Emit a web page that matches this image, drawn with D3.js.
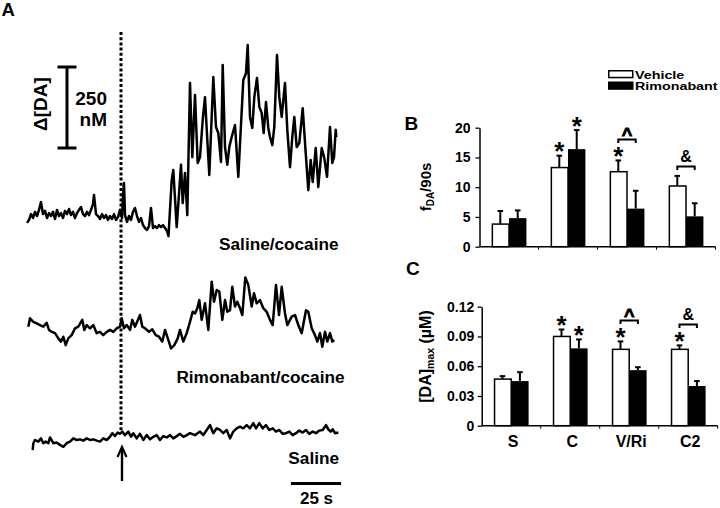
<!DOCTYPE html>
<html><head><meta charset="utf-8">
<script src="https://cdn.jsdelivr.net/npm/d3@7"></script>
<style>
html,body{margin:0;padding:0;background:#fff;}
svg{display:block;font-family:"Liberation Sans",Arial,Helvetica,sans-serif;font-weight:bold;}
</style></head><body>
<svg id="chart" width="720" height="508"></svg>
<script>
// ---------- Panel A: voltammetric traces, [time (s) relative to injection, Δ[DA] (nM)] ----------
const traceSalineCocaine = [
[-47,-15],[-46,-6],[-45,12],[-44,0],[-43,19],[-42,6],[-41,25],[-40,49],[-39,12],[-38,22],[-37,0],[-36,15],[-35,6],[-34,19],[-33,-3],[-32,25],[-31,6],[-30,15],[-29,0],[-28,22],[-27,12],[-26,28],[-25,9],[-24,19],[-23,0],[-22,15],[-21,25],[-20,34],[-19,12],[-18,6],[-17,19],[-16,9],[-15,25],[-14,43],[-13.5,71],[-12.5,12],[-11.5,6],[-10.5,-3],[-9.5,12],[-8.5,0],[-7.5,9],[-6.5,-6],[-5.5,6],[-4.5,-3],[-3.5,12],[-2.5,-6],[-1.5,3],[-0.5,25],[0.5,0],[1,71],[1.5,108],[2,9],[3,-12],[4,6],[5,-6],[6,19],[7,31],[8,6],[9,-12],[10,0],[11,-22],[12,-31],[13,-37],[14,-25],[15,31],[16,-31],[17,-25],[18,-31],[19,-22],[20,-28],[21,-22],[22,-31],[23,-40],[23.75,-56],[25.35,117],[26.15,148],[27.85,-28],[30,164],[30.85,46],[32,139],[33.15,9],[34.5,417],[35.65,188],[37,380],[38.35,170],[39.5,188],[40.85,302],[42,373],[43.15,241],[44.15,133],[46.15,435],[47.5,281],[48.65,262],[50,173],[50.85,472],[52,219],[53.15,164],[54.15,219],[55.35,250],[57,287],[58.65,127],[61.15,426],[62.5,447],[63.35,534],[64.5,312],[65.65,278],[66.65,373],[68,432],[69.15,343],[70.35,324],[71.35,262],[72.5,358],[73.65,278],[74.5,250],[75.65,225],[76.65,281],[78,503],[79.15,373],[80.35,312],[82,417],[83.15,272],[84.5,157],[85.65,250],[86.65,312],[87.85,219],[89.15,231],[90.85,339],[92.35,201],[93.65,86],[94.85,179],[95.85,111],[97.35,216],[98.65,96],[100.35,216],[101.65,185],[103,127],[104.5,281],[105.65,170],[106.5,188],[107.35,272],[107.65,250]
];
const traceRimonabantCocaine = [
[-46.35,1],[-45.5,27],[-43.85,16],[-42.15,11],[-40.5,6],[-38.85,1],[-37.15,13],[-36,-9],[-34.65,-15],[-33,-19],[-31.35,-35],[-30,-45],[-28.85,-30],[-27.65,-56],[-26.35,-35],[-24.65,-25],[-23,-4],[-21.35,1],[-19.35,22],[-18.35,-9],[-17.15,6],[-15.5,-4],[-13.85,6],[-12.15,-19],[-10.5,-15],[-8.85,-25],[-7.15,-15],[-5.5,-9],[-3.85,-15],[-2.15,-4],[-0.5,1],[0.35,27],[1.5,-4],[2.85,6],[4.5,-9],[5.65,22],[7,1],[9.5,37],[10.65,1],[12,-4],[14,-15],[15.65,-7],[17.35,-25],[19,-30],[20.65,-45],[22,-9],[23.65,-40],[25,-66],[26.65,-56],[28.35,-35],[29.5,-9],[31.15,-45],[32.85,-19],[34.5,16],[35.85,47],[37,42],[38.15,58],[39.15,83],[40.35,22],[42,73],[43.65,-9],[45.35,140],[46.5,78],[47.85,114],[49.15,109],[50.65,22],[52,83],[53.15,47],[54.5,52],[55.65,124],[57,63],[58.15,78],[59.5,58],[60.65,37],[62.15,153],[63.65,130],[65.35,63],[66.5,104],[67.85,73],[69.5,83],[71.15,58],[72.85,47],[74.5,22],[75.85,6],[77.5,130],[79,37],[80.35,124],[82,42],[83.15,6],[85.35,32],[87,37],[88.65,6],[90.35,-19],[92.5,52],[93.65,47],[95.35,-4],[97,-25],[98.15,-45],[99.5,-19],[100.65,-61],[102,-15],[103.15,-45],[104.5,-19],[105.65,-45],[106.65,-40]
];
const traceSaline = [
[-44.15,-31],[-43.85,-10],[-43,0],[-41.35,-5],[-40,5],[-38.85,-10],[-37.65,-5],[-36.35,-10],[-35.5,8],[-33.85,-10],[-32.15,-8],[-30.5,-15],[-28.85,-21],[-27.15,-10],[-25.5,-5],[-23.85,5],[-22.15,0],[-20.5,2],[-18.85,-2],[-17.15,5],[-15.5,0],[-13.85,2],[-12.15,-2],[-10.5,-5],[-8.85,5],[-7.15,0],[-5.5,10],[-4.35,21],[-3,12],[-1.65,23],[-0.5,19],[0.65,26],[2,15],[3.65,26],[5,10],[6.15,21],[7.85,5],[9.5,19],[11.15,0],[12.85,15],[14.5,2],[16.15,10],[17.85,15],[19.5,0],[21.15,12],[22.85,8],[24.5,15],[26.15,5],[27.85,12],[29.5,19],[31.15,10],[32,12],[34.5,21],[37,15],[39.5,26],[41.15,15],[42.85,31],[44.5,46],[46.15,21],[47.85,36],[49.5,31],[51.15,21],[52.85,31],[54.5,5],[56.15,26],[57.85,36],[59.5,41],[61.15,36],[62.85,46],[64.5,36],[66.15,52],[67.5,36],[69.15,52],[70.85,36],[72.5,46],[74.15,31],[75.85,36],[77.5,26],[79.15,31],[80.85,19],[82.5,21],[84.15,26],[85.85,15],[87.5,21],[89.15,29],[90.85,23],[92.5,31],[94.15,19],[95.85,26],[97.5,21],[99.15,29],[100.85,31],[102.5,46],[103.65,33],[104.85,26],[105.85,33],[107,21],[108.65,23]
];
const traceNames = ["Saline/cocaine","Rimonabant/cocaine","Saline"];
const scaleBarNM = 250;
const scaleBarSec = 25;
const timeBarStart = 85;

// ---------- Panels B and C: bar charts ----------
const categories = ["S","C","V/Ri","C2"];
const seriesNames = ["Vehicle","Rimonabant"];
const fdaVehicle = [3.8,13.3,12.6,10.2];
const fdaVehicleErr = [2.2,2.0,1.9,1.7];
const fdaRimonabant = [4.8,16.4,6.4,5.1];
const fdaRimonabantErr = [1.3,3.2,3.0,2.2];
const fdaTicks = [0,5,10,15,20];
const daMaxVehicle = [0.047,0.090,0.077,0.077];
const daMaxVehicleErr = [0.003,0.007,0.008,0.004];
const daMaxRimonabant = [0.045,0.078,0.056,0.040];
const daMaxRimonabantErr = [0.009,0.009,0.003,0.005];
const daMaxTicks = [0,0.03,0.06,0.09,0.12];
const daMaxTickLabels = ["0","0.03","0.06","0.09","0.12"];
const starsB = [["C","Vehicle"],["C","Rimonabant"],["V/Ri","Vehicle"]];
const starsC = [["C","Vehicle"],["C","Rimonabant"],["V/Ri","Vehicle"],["C2","Vehicle"]];
const bracketsB = [["V/Ri","^"],["C2","&"]];
const bracketsC = [["V/Ri","^"],["C2","&"]];

const svg = d3.select("#chart");

// ================= Panel A =================
svg.append("text").attr("x",1.5).attr("y",16).attr("font-size",18.5).text("A");

const xT = d3.scaleLinear().domain([0, 25]).range([121, 171]);
const baselines = [218, 327, 440];
const traces = [traceSalineCocaine, traceRimonabantCocaine, traceSaline];
traces.forEach((tr, i) => {
  const yS = d3.scaleLinear().domain([0, scaleBarNM]).range([baselines[i], baselines[i] - 81]);
  const line = d3.line().x(d => xT(d[0])).y(d => yS(d[1]));
  svg.append("path").datum(tr).attr("d", line)
    .attr("fill","none").attr("stroke","#000").attr("stroke-width",2.5)
    .attr("stroke-linejoin","round");
});
const labelPos = [[338.5,250],[344.5,383],[339,464]];
traceNames.forEach((n,i)=>{
  svg.append("text").attr("x",labelPos[i][0]).attr("y",labelPos[i][1])
    .attr("text-anchor","end").attr("font-size",17.2).text(n);
});

// injection marker
svg.append("line").attr("x1",xT(0)).attr("x2",xT(0)).attr("y1",32).attr("y2",432)
  .attr("stroke","#000").attr("stroke-width",3).attr("stroke-dasharray","3,2.2");
svg.append("line").attr("x1",xT(0.5)).attr("x2",xT(0.5)).attr("y1",449).attr("y2",481)
  .attr("stroke","#000").attr("stroke-width",2.4);
svg.append("path").attr("d",`M${xT(0.5)-4.5},${457} L${xT(0.5)},${447} L${xT(0.5)+4.5},${457}`)
  .attr("fill","none").attr("stroke","#000").attr("stroke-width",2.2);

// vertical scale bar
const ySB = d3.scaleLinear().domain([0, scaleBarNM]).range([148, 67]);
const sbx = 67;
svg.append("line").attr("x1",sbx).attr("x2",sbx).attr("y1",ySB(0)).attr("y2",ySB(scaleBarNM)).attr("stroke","#000").attr("stroke-width",3);
[0, scaleBarNM].forEach(v=>{
  svg.append("line").attr("x1",sbx-9.5).attr("x2",sbx+9.5).attr("y1",ySB(v)).attr("y2",ySB(v)).attr("stroke","#000").attr("stroke-width",3);
});
svg.append("text").attr("x",107).attr("y",105).attr("text-anchor","end").attr("font-size",19).text(String(scaleBarNM));
svg.append("text").attr("x",107).attr("y",125.5).attr("text-anchor","end").attr("font-size",19).text("nM");
svg.append("text").attr("transform","translate(47,104) rotate(-90)").attr("text-anchor","middle").attr("font-size",19).text("Δ[DA]");

// time scale bar
svg.append("line").attr("x1",xT(timeBarStart)).attr("x2",xT(timeBarStart+scaleBarSec)).attr("y1",483.5).attr("y2",483.5).attr("stroke","#000").attr("stroke-width",3);
svg.append("text").attr("x",316.5).attr("y",503.5).attr("text-anchor","middle").attr("font-size",17).text(scaleBarSec + " s");

// ================= Bar panels =================
function barPanel(opt){
  const g = svg.append("g");
  const x0 = opt.x0, step = 59;
  const xB = d3.scaleBand().domain(categories).range([x0, x0 + step*categories.length])
    .paddingInner(0.41).paddingOuter(0.205);
  const xS = d3.scaleBand().domain(seriesNames).range([0, xB.bandwidth()]);
  const y = d3.scaleLinear().domain(opt.domain).range(opt.range);
  const vals = {Vehicle: opt.veh, Rimonabant: opt.rim};
  const errs = {Vehicle: opt.vehErr, Rimonabant: opt.rimErr};
  const cx = (c,s) => xB(c) + xS(s) + xS.bandwidth()/2;
  const errTop = (c,s) => { const i = categories.indexOf(c); return y(vals[s][i] + errs[s][i]); };

  seriesNames.forEach(s=>{
    categories.forEach((c,i)=>{
      const xc = cx(c,s);
      g.append("line").attr("x1",xc).attr("x2",xc).attr("y1",y(vals[s][i])).attr("y2",y(vals[s][i]+errs[s][i])).attr("stroke","#000").attr("stroke-width",2);
      g.append("line").attr("x1",xc-2.8).attr("x2",xc+2.8).attr("y1",y(vals[s][i]+errs[s][i])).attr("y2",y(vals[s][i]+errs[s][i])).attr("stroke","#000").attr("stroke-width",2);
    });
  });
  seriesNames.forEach(s=>{
    g.selectAll(null).data(categories).enter().append("rect")
      .attr("x", c => xB(c) + xS(s) + (s==="Vehicle"?0.75:0))
      .attr("width", xS.bandwidth() - (s==="Vehicle"?0.75:0))
      .attr("y", (c,i) => y(vals[s][i]))
      .attr("height", (c,i) => y(0) - y(vals[s][i]))
      .attr("fill", s==="Vehicle" ? "#fff" : "#000")
      .attr("stroke","#000").attr("stroke-width", s==="Vehicle"?1.5:0);
  });
  const ax = d3.axisLeft(y).tickValues(opt.ticks).tickSize(4).tickSizeOuter(0).tickPadding(opt.tickPad)
    .tickFormat((d,i)=>opt.tickLabels[i]);
  const ag = g.append("g").attr("transform",`translate(${x0},0)`).call(ax);
  ag.select(".domain").attr("stroke-width",1.5);
  ag.selectAll(".tick line").attr("stroke-width",1.3);
  ag.selectAll("text").attr("font-size",14).attr("font-weight","bold").attr("font-family",'"Liberation Sans",Arial,sans-serif');
  const xEnd = x0 + step*categories.length;
  g.append("line").attr("x1",x0).attr("x2",xEnd).attr("y1",y(0)).attr("y2",y(0)).attr("stroke","#000").attr("stroke-width",1.5);
  categories.forEach(c=>{
    const bx = xB(c) + xB.bandwidth() + xB.step()*xB.paddingInner()/2;
    g.append("line").attr("x1",bx).attr("x2",bx).attr("y1",y(0)).attr("y2",y(0)+3).attr("stroke","#000").attr("stroke-width",1);
  });
  if (opt.showX){
    categories.forEach(c=>{
      g.append("text").attr("x", xB(c)+xB.bandwidth()/2 + 2).attr("y", y(0)+21.5)
        .attr("text-anchor","middle").attr("font-size",16).text(c);
    });
  }
  opt.stars.forEach(([c,s])=>{
    g.append("text").attr("x",cx(c,s)).attr("y",errTop(c,s) + 4.6)
      .attr("text-anchor","middle").attr("font-size",26).text("*");
  });
  opt.brackets.forEach(([c,sym])=>{
    const hasStar = opt.stars.some(d=>d[0]===c && d[1]==="Vehicle");
    const top = Math.min(errTop(c,"Vehicle"), errTop(c,"Rimonabant"));
    const by = top - (hasStar ? 21 : 9.5);
    const xa = cx(c,"Vehicle"), xb = cx(c,"Rimonabant");
    g.append("path").attr("d",`M${xa},${by+3.5} L${xa},${by} L${xb},${by} L${xb},${by+3.5}`)
      .attr("fill","none").attr("stroke","#000").attr("stroke-width",2);
    const t = g.append("text").attr("x",(xa+xb)/2).attr("text-anchor","middle").text(sym);
    if (sym==="^") t.attr("y", by+1.5).attr("font-size",18).attr("stroke","#000").attr("stroke-width",0.9);
    else t.attr("y", by-4.5).attr("font-size",16);
  });
  return {xB, y};
}

// Panel B
svg.append("text").attr("x",404.5).attr("y",130).attr("font-size",19).text("B");
barPanel({x0:479.5, domain:[0,20], range:[246.7,127.7], veh:fdaVehicle, vehErr:fdaVehicleErr,
  rim:fdaRimonabant, rimErr:fdaRimonabantErr, ticks:fdaTicks, tickLabels:fdaTicks.map(String), tickPad:5,
  stars:starsB, brackets:bracketsB, showX:false});
const yl = svg.append("text").attr("transform","translate(430.5,187) rotate(-90)").attr("text-anchor","middle").attr("font-size",15);
yl.append("tspan").text("f");
yl.append("tspan").attr("font-size",10).attr("dy",3).text("DA");
yl.append("tspan").attr("dy",-3).text("/90s");

// Panel C
svg.append("text").attr("x",406).attr("y",275).attr("font-size",19).text("C");
barPanel({x0:481.7, domain:[0,0.12], range:[425.7,306.7], veh:daMaxVehicle, vehErr:daMaxVehicleErr,
  rim:daMaxRimonabant, rimErr:daMaxRimonabantErr, ticks:daMaxTicks, tickLabels:daMaxTickLabels, tickPad:3.5,
  stars:starsC, brackets:bracketsC, showX:true});
const yl2 = svg.append("text").attr("transform","translate(430.5,356.5) rotate(-90)").attr("text-anchor","middle").attr("font-size",16);
yl2.append("tspan").text("[DA]");
yl2.append("tspan").attr("font-size",10.5).attr("dy",3.5).text("max");
yl2.append("tspan").attr("dy",-3.5).text(" (µM)");

// Legend
const lg = svg.append("g").attr("transform","translate(608,70)");
const legendRowGap = 11.5;
seriesNames.forEach((s,i)=>{
  lg.append("rect").attr("x",0.75).attr("y",i*legendRowGap+0.75).attr("width",24).attr("height",6.8)
    .attr("fill", s==="Vehicle"?"#fff":"#000").attr("stroke","#000").attr("stroke-width",1.5);
  lg.append("text").attr("transform",`translate(27,${i*legendRowGap+8.6}) scale(1,0.76)`)
    .attr("font-size",14.3).text(s);
});
</script>
</body></html>
